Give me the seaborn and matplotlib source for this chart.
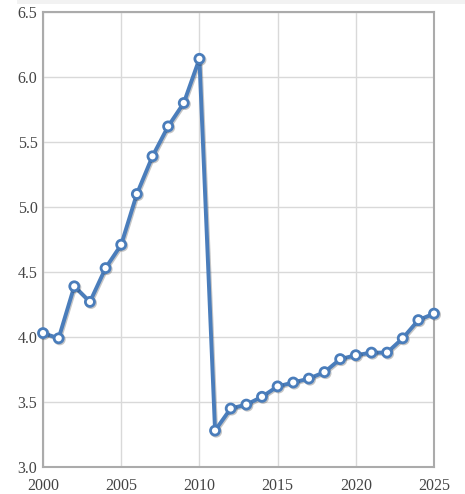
import matplotlib
matplotlib.use("Agg")
import matplotlib.pyplot as plt
import matplotlib.patheffects as pe
import seaborn as sns
import pandas as pd

years = list(range(2000, 2026))
values = [4.03, 3.99, 4.39, 4.27, 4.53, 4.71, 5.10, 5.39, 5.62, 5.80, 6.14,
          3.28, 3.45, 3.48, 3.54, 3.62, 3.65, 3.68, 3.73, 3.83, 3.86, 3.88,
          3.88, 3.99, 4.13, 4.18]
x_ticks = [2000, 2005, 2010, 2015, 2020, 2025]
y_ticks = [3.0, 3.5, 4.0, 4.5, 5.0, 5.5, 6.0, 6.5]

df = pd.DataFrame({"year": years, "value": values})

sns.set_theme(style="white")
plt.rcParams["font.family"] = ["Liberation Serif", "DejaVu Serif"]

fig = plt.figure(figsize=(4.65, 4.94), dpi=100)
ax = fig.add_axes([43/465, 27/494, (434-43)/465, (467-12)/494])

# light band at top of figure
fig.patches.append(plt.Rectangle((17/465, 1-4/494), 1, 4/494, transform=fig.transFigure,
                                 facecolor="#f2f2f2", edgecolor="none", zorder=0))

sns.lineplot(data=df, x="year", y="value", ax=ax, color="#4a7dbb", linewidth=2.8,
             marker="o", markersize=6.5, markerfacecolor="white",
             markeredgecolor="#4a7dbb", markeredgewidth=2.0,
             path_effects=[pe.SimpleLineShadow(offset=(0.8, -0.8), alpha=0.25), pe.Normal()],
             clip_on=False, zorder=3)

ax.set_xlim(2000, 2025)
ax.set_ylim(3.0, 6.5)
ax.set_xticks(x_ticks)
ax.set_yticks(y_ticks)
ax.set_yticklabels([f"{v:.1f}" for v in y_ticks])
ax.set_xlabel("")
ax.set_ylabel("")
ax.grid(True, color="#d9d9d9", linewidth=1.0)
ax.set_axisbelow(True)
for s in ax.spines.values():
    s.set_color("#ababab")
    s.set_linewidth(1.5)
ax.tick_params(axis="both", length=0, labelsize=11.5, colors="#444444")
ax.tick_params(axis="y", pad=4)
ax.tick_params(axis="x", pad=8)

fig.savefig("out.png", dpi=100)
